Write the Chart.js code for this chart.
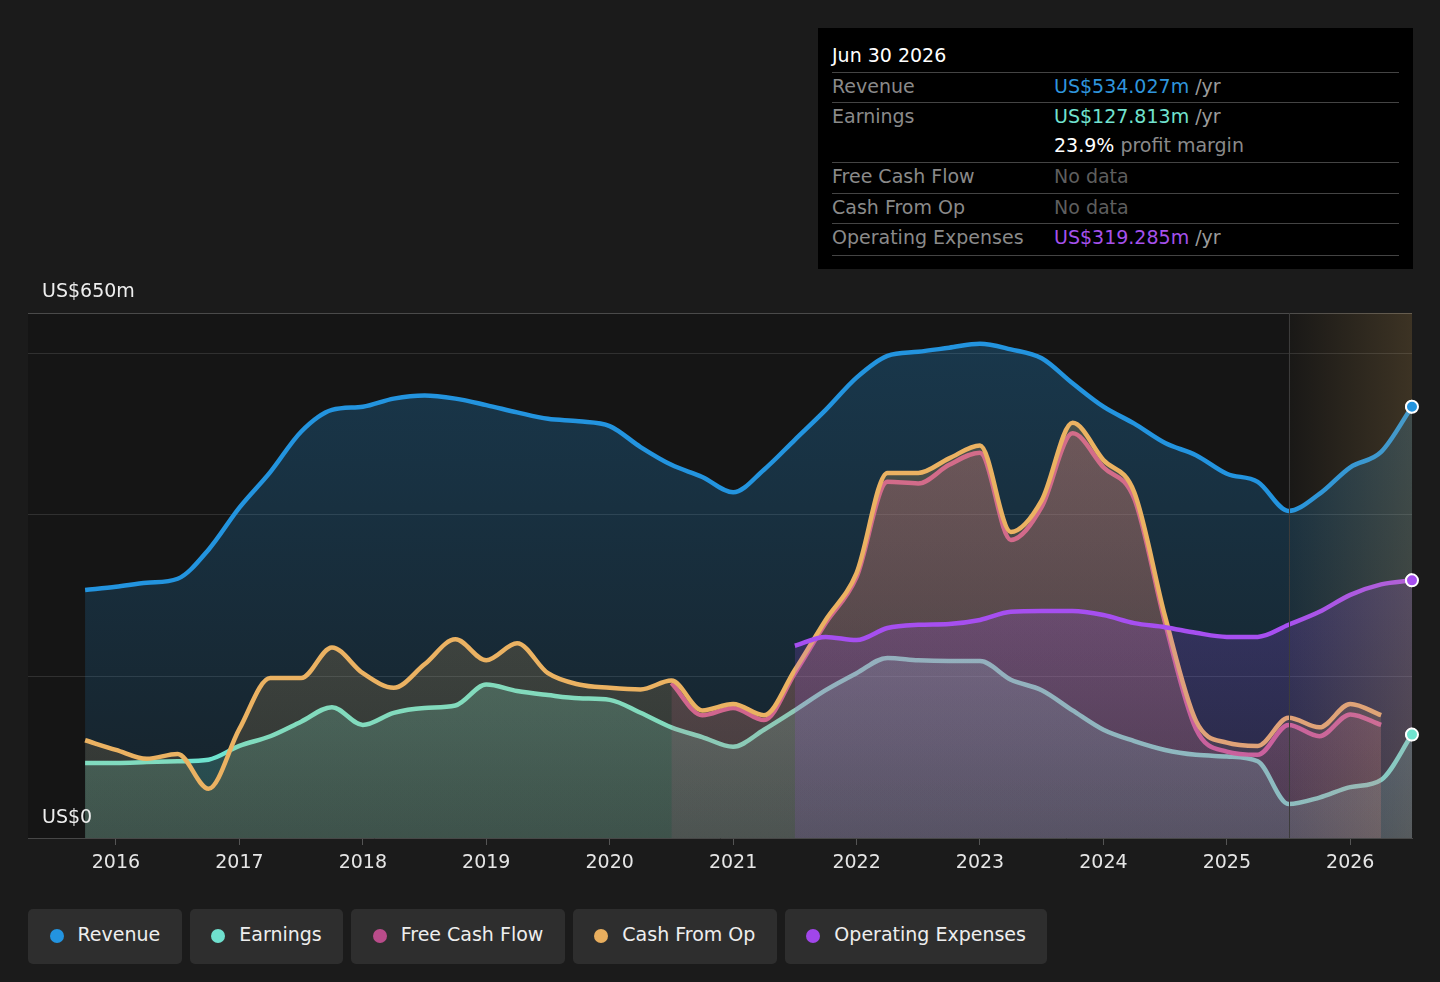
<!DOCTYPE html>
<html>
<head>
<meta charset="utf-8">
<script src="https://cdn.jsdelivr.net/npm/chart.js@4.4.1/dist/chart.umd.min.js"></script>
<style>
  html, body { margin: 0; padding: 0; background: #1b1b1b; }
  body { width: 1440px; height: 982px; position: relative; overflow: hidden; font-family: "DejaVu Sans", sans-serif; }
  #chart { position: absolute; left: 0; top: 0; }
  .tip { position: absolute; left: 818px; top: 28px; width: 595px; height: 241px; background: #000; box-sizing: border-box; padding: 0 14px 0 14px; }
  .tip .date { color: #fff; font-size: 19px; height: 44px; line-height: 54px; border-bottom: 1px solid #444; }
  .tip .row { display: flex; height: 29px; line-height: 27px; border-bottom: 1px solid #444; font-size: 19px; color: #8a8a8a; }
  .tip .row.nob { border-bottom: none; }
  .tip .row .k { width: 222px; }
  .tip .unit { color: #9a9a9a; }
  .tip .none { color: #5e5e5e; }
  .legend { position: absolute; top: 909px; left: 28px; display: flex; gap: 8px; }
  .legend .item { height: 55px; box-sizing: border-box; padding: 0 21.5px 5px 21.5px; background: #2e2e2e; border-radius: 5px; display: flex; align-items: center; color: #eee; font-size: 19px; }
  .legend .dot { width: 14px; height: 14px; border-radius: 50%; margin-right: 14px; margin-top: 3px; }
</style>
</head>
<body>
<canvas id="chart" width="1440" height="890"></canvas>

<div class="tip">
  <div class="date">Jun 30 2026</div>
  <div class="row"><span class="k">Revenue</span><span><span style="color:#2f95dc">US$534.027m</span> <span class="unit">/yr</span></span></div>
  <div class="row nob"><span class="k">Earnings</span><span><span style="color:#71e2cf">US$127.813m</span> <span class="unit">/yr</span></span></div>
  <div class="row" style="height:30px"><span class="k"></span><span><span style="color:#fff">23.9%</span> profit margin</span></div>
  <div class="row" style="height:30px"><span class="k">Free Cash Flow</span><span class="none">No data</span></div>
  <div class="row"><span class="k">Cash From Op</span><span class="none">No data</span></div>
  <div class="row" style="height:31px"><span class="k">Operating Expenses</span><span><span style="color:#a551ec">US$319.285m</span> <span class="unit">/yr</span></span></div>
</div>

<div class="legend">
  <div class="item"><span class="dot" style="background:#2394e0"></span>Revenue</div>
  <div class="item"><span class="dot" style="background:#6fe0ce"></span>Earnings</div>
  <div class="item"><span class="dot" style="background:#b94c8a"></span>Free Cash Flow</div>
  <div class="item"><span class="dot" style="background:#e8ae5e"></span>Cash From Op</div>
  <div class="item"><span class="dot" style="background:#a146ea"></span>Operating Expenses</div>
</div>

<script>
// quarter ends, Sep 2015 .. Jun 2026, as decimal years
var quarters = [2015.75,2016,2016.25,2016.5,2016.75,2017,2017.25,2017.5,2017.75,2018,2018.25,2018.5,2018.75,2019,2019.25,2019.5,2019.75,2020,2020.25,2020.5,2020.75,2021,2021.25,2021.5,2021.75,2022,2022.25,2022.5,2022.75,2023,2023.25,2023.5,2023.75,2024,2024.25,2024.5,2024.75,2025,2025.25,2025.5,2025.75,2026,2026.25,2026.5];

// US$m
var revenue  = [307,311,316,321,357,409,453,503,530,534,544,548,544,536,527,519,516,510,484,462,447,428,456,493,530,570,597,602,607,612,605,594,563,534,513,489,474,451,441,405,426,459,478,534];
var earnings = [93,93,94,95,97,114,126,144,162,140,155,161,164,190,182,177,173,171,155,137,125,113,134,158,183,204,223,220,219,219,196,183,158,134,120,109,103,101,95,42,50,63,72,128];
var freeCashFlow = [null,null,null,null,null,null,null,null,null,null,null,null,null,null,null,null,null,null,null,192,152,161,146,204,266,323,441,439,462,477,369,410,501,459,420,266,135,107,103,140,126,153,140,null];
var cashFromOp = [121,109,98,104,61,135,198,198,236,204,186,215,246,220,241,204,190,186,184,195,158,166,152,208,270,328,452,452,470,486,379,418,514,468,428,274,145,118,114,149,137,166,152,null];
var opex = [null,null,null,null,null,null,null,null,null,null,null,null,null,null,null,null,null,null,null,null,null,null,null,238,249,245,260,264,265,270,280,281,281,276,266,261,254,249,249,264,280,301,314,319];

var yearTicks = [2016,2017,2018,2019,2020,2021,2022,2023,2024,2025,2026];
var yTicks = [0,200,400,600,650];
var forecastStart = 2025.5;

function pts(arr) {
  var out = [];
  for (var i = 0; i < quarters.length; i++) {
    out.push({ x: quarters[i], y: arr[i] });
  }
  return out;
}

function grad(r, g, b, a1, a2) {
  return function(ctx) {
    var area = ctx.chart.chartArea;
    if (!area) return 'rgba(' + r + ',' + g + ',' + b + ',' + a1 + ')';
    var gr = ctx.chart.ctx.createLinearGradient(0, area.top, 0, area.bottom);
    gr.addColorStop(0, 'rgba(' + r + ',' + g + ',' + b + ',' + a1 + ')');
    gr.addColorStop(1, 'rgba(' + r + ',' + g + ',' + b + ',' + a2 + ')');
    return gr;
  };
}

var last = quarters.length - 1;
function endRadius(ctx) { return ctx.dataIndex === last ? 6 : 0; }

function series(label, arr, color, fill, order) {
  return {
    label: label,
    data: pts(arr),
    borderColor: color,
    backgroundColor: fill,
    fill: 'origin',
    borderWidth: 4.5,
    cubicInterpolationMode: 'monotone',
    pointRadius: endRadius,
    pointHoverRadius: 0,
    pointBackgroundColor: color,
    pointBorderColor: '#fff',
    pointBorderWidth: 2,
    spanGaps: false,
    order: order
  };
}

var backdrop = {
  id: 'backdrop',
  beforeDraw: function(chart) {
    var c = chart.ctx, a = chart.chartArea;
    c.save();
    c.fillStyle = '#151515';
    c.fillRect(a.left, a.top, a.right - a.left, a.bottom - a.top);
    c.restore();
  },
  afterDatasetsDraw: function(chart) {
    var c = chart.ctx, a = chart.chartArea;
    var fx = chart.scales.x.getPixelForValue(forecastStart);
    c.save();
    var g = c.createLinearGradient(fx, 0, a.right, 0);
    g.addColorStop(0, 'rgba(230,180,100,0.02)');
    g.addColorStop(1, 'rgba(230,180,100,0.19)');
    c.fillStyle = g;
    c.fillRect(fx, a.top, a.right - fx, a.bottom - a.top);
    c.strokeStyle = '#3c3c3c';
    c.lineWidth = 1;
    c.beginPath();
    c.moveTo(Math.round(fx) + 0.5, a.top);
    c.lineTo(Math.round(fx) + 0.5, a.bottom);
    c.stroke();
    c.restore();
    // end markers on top of the forecast tint
    chart.data.datasets.forEach(function(ds, i) {
      var meta = chart.getDatasetMeta(i);
      var p = meta.data[last];
      if (p && ds.data[last].y != null) p.draw(c);
    });
    var y = chart.scales.y;
    c.save();
    c.fillStyle = '#eeeeee';
    c.font = '19px "DejaVu Sans"';
    c.textBaseline = 'middle';
    c.fillText('US$650m', a.left + 14, y.getPixelForValue(650) - 21);
    c.fillText('US$0', a.left + 14, y.getPixelForValue(0) - 20);
    c.restore();
  }
};

var chart = new Chart(document.getElementById('chart'), {
  type: 'line',
  data: {
    datasets: [
      series('Revenue', revenue, '#2394df', grad(35,148,223,0.28,0.10), 5),
      series('Earnings', earnings, '#6fe3cf', grad(110,231,208,0.38,0.18), 4),
      series('Free Cash Flow', freeCashFlow, '#cc5796', grad(200,80,140,0.30,0.10), 3),
      series('Cash From Op', cashFromOp, '#ebb262', grad(232,176,96,0.28,0.12), 2),
      series('Operating Expenses', opex, '#a64ff0', grad(163,78,240,0.30,0.12), 1)
    ]
  },
  options: {
    responsive: false,
    animation: false,
    devicePixelRatio: 1,
    layout: { padding: { left: 28, right: 28, top: 313, bottom: 0 } },
    plugins: { legend: { display: false }, tooltip: { enabled: false } },
    events: [],
    scales: {
      x: {
        type: 'linear',
        min: 2015.2874,
        max: 2026.5,
        afterBuildTicks: function(s) { s.ticks = yearTicks.map(function(v) { return { value: v }; }); },
        afterFit: function(s) { s.height = 52; },
        ticks: { color: '#e6e6e6', font: { family: 'DejaVu Sans', size: 19 }, padding: 7, maxRotation: 0, callback: function(v) { return String(v); } },
        grid: { drawOnChartArea: false, drawTicks: true, tickLength: 7, color: '#555' },
        border: { display: true, color: '#474747', width: 1 }
      },
      y: {
        min: 0,
        max: 650,
        afterBuildTicks: function(s) { s.ticks = yTicks.map(function(v) { return { value: v }; }); },
        afterFit: function(s) { s.width = 0; },
        ticks: { display: false },
        grid: {
          drawTicks: false,
          color: function(ctx) { return ctx.tick && ctx.tick.value === 650 ? '#4a4a4a' : (ctx.tick && ctx.tick.value === 0 ? 'rgba(0,0,0,0)' : '#303030'); },
          lineWidth: 1
        },
        border: { display: false }
      }
    }
  },
  plugins: [backdrop]
});
</script>
</body>
</html>
